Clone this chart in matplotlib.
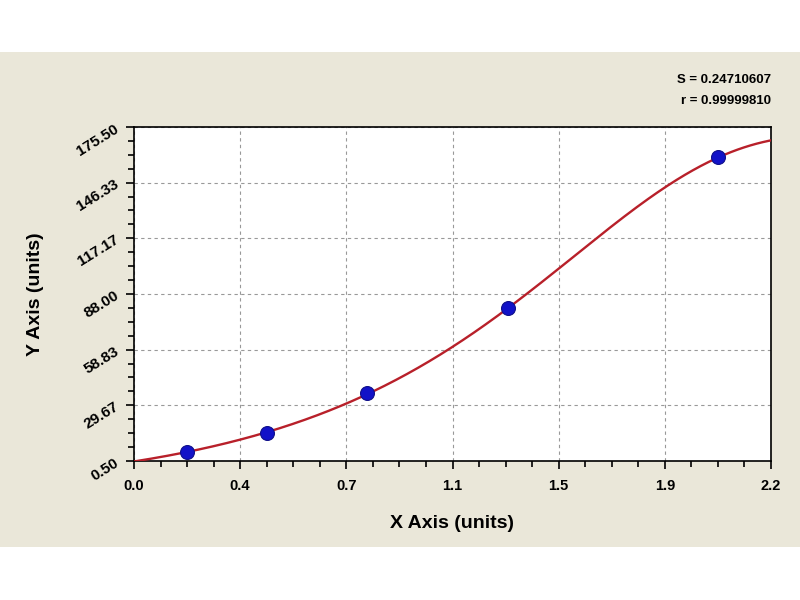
import numpy as np
import matplotlib
matplotlib.use("Agg")
import matplotlib.pyplot as plt
from matplotlib.patches import Rectangle
from matplotlib.ticker import AutoMinorLocator

# data
x_points = [0.182, 0.458, 0.804, 1.293, 2.018]
y_points = [5.4, 15.0, 36.0, 80.5, 159.6]
x_tick_labels = ["0.0", "0.4", "0.7", "1.1", "1.5", "1.9", "2.2"]
y_tick_labels = ["0.50", "29.67", "58.83", "88.00", "117.17", "146.33", "175.50"]
stats_text = ["S = 0.24710607", "r = 0.99999810"]

plt.rcParams['font.family'] = ['Liberation Sans', 'DejaVu Sans']

fig = plt.figure(figsize=(8, 6), dpi=100, facecolor='white')
fig.patches.append(Rectangle((0, (600 - 547) / 600), 1, 495 / 600, transform=fig.transFigure,
                             facecolor='#EAE7D9', edgecolor='none', zorder=-10))
ax = fig.add_axes([134 / 800, (600 - 461) / 600, 637 / 800, 334 / 600])
ax.set_zorder(1)
ax.set_facecolor('white')

# fitted curve: rational function y = (a + b x) / (1 + c x + d x^2), least squares (linearised)
xp = np.asarray(x_points)
yp = np.asarray(y_points)
A = np.column_stack([np.ones_like(xp), xp, -xp * yp, -xp ** 2 * yp])
a, b, c, d = np.linalg.lstsq(A, yp, rcond=None)[0]
xs = np.linspace(0, 2.2, 400)
ax.plot(xs, (a + b * xs) / (1 + c * xs + d * xs ** 2), color='#B8202A', lw=1.7, zorder=3)
ax.plot(x_points, y_points, 'o', color='#1212C8', markeredgecolor='#10108A',
        markeredgewidth=0.8, markersize=10, zorder=4)

xt = np.linspace(0, 2.2, len(x_tick_labels))
yt = np.linspace(0.5, 175.5, len(y_tick_labels))
ax.set_xlim(0, 2.2)
ax.set_ylim(0.5, 175.5)
ax.set_xticks(xt)
ax.set_xticklabels(x_tick_labels, fontsize=10.5, fontweight='bold')
ax.set_yticks(yt)
ax.set_yticklabels(y_tick_labels, fontsize=11, rotation=32, fontweight='bold')
ax.xaxis.set_minor_locator(AutoMinorLocator(4))
ax.yaxis.set_minor_locator(AutoMinorLocator(4))
ax.tick_params(which='major', direction='out', length=6, width=1.2, colors='black')
ax.tick_params(which='minor', direction='out', length=4, width=1.2, colors='black')
ax.tick_params(axis='x', pad=7)
ax.tick_params(axis='y', pad=3)
ax.grid(True, which='major', color='#999999', linestyle=(0, (3, 3)), lw=0.8)
for s in ax.spines.values():
    s.set_linewidth(1.2)

ax.set_xlabel("X Axis (units)", fontsize=14, fontweight='bold', labelpad=16)
ax.set_ylabel("Y Axis (units)", fontsize=14, fontweight='bold', labelpad=22)

fig.text(771 / 800, 1 - 80 / 600, stats_text[0], ha='right', va='center', fontsize=9.5, fontweight='bold')
fig.text(771 / 800, 1 - 101 / 600, stats_text[1], ha='right', va='center', fontsize=9.5, fontweight='bold')

fig.savefig("out.png", dpi=100, facecolor='white')
